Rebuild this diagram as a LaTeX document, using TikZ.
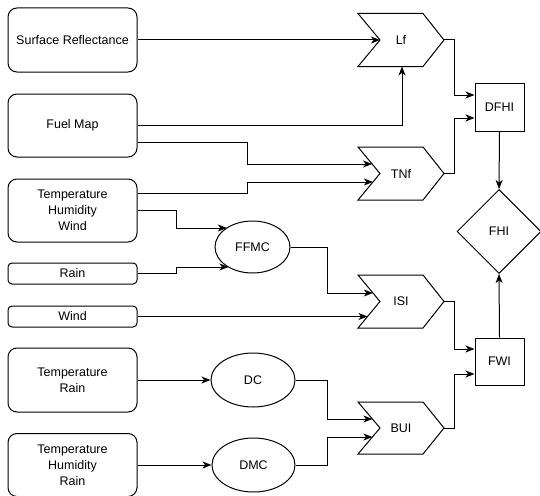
\documentclass[tikz,border=0pt]{standalone}
\usepackage{fontspec}
\setmainfont{Liberation Sans}
\usetikzlibrary{arrows.meta,shapes.geometric,calc}
\begin{document}
\begin{tikzpicture}[x=1pt,y=-1pt,
  line width=1pt,
  every node/.style={font=\fontsize{12.5}{16}\selectfont, align=center, inner sep=0pt},
  bigbox/.style={draw, rounded corners=9pt, minimum width=129pt, minimum height=63pt},
  smallbox/.style={draw, rounded corners=4pt, minimum width=129pt, minimum height=21pt},
  oval/.style={draw, ellipse, minimum width=#1, minimum height=54pt},
  sqbox/.style={draw, minimum width=49pt, minimum height=48pt},
  label/.style={draw=none},
  arr/.style={-{Stealth[length=9pt,width=7pt,inset=2.5pt]}}
]
\useasboundingbox (0,0) rectangle (540,495);

% input boxes
\node[bigbox, minimum height=64pt] (sr) at (72.5,40) {Surface Reflectance};
\node[bigbox] (fm) at (72.5,125.5) {Fuel Map};
\node[bigbox] (thw) at (72.5,210.5) {Temperature\\Humidity\\Wind};
\node[smallbox] (rain) at (72.5,273.5) {Rain};
\node[smallbox] (wind) at (72.5,316.5) {Wind};
\node[bigbox, minimum height=64pt] (tr) at (72.5,380) {Temperature\\Rain};
\node[bigbox] (thr) at (72.5,465) {Temperature\\Humidity\\Rain};

% ellipses
\node[oval=75pt, minimum height=52pt] (ffmc) at (252.5,247) {FFMC};
\node[oval=84pt] (dc) at (253,380) {DC};
\node[oval=83pt] (dmc) at (253.5,465) {DMC};

% chevrons
\draw (358,13.5) -- (423,13.5) -- (444,40) -- (423,66.5) -- (358,66.5) -- (380,40) -- cycle;
\node[label] (lf) at (401,40) {Lf};
\coordinate (lfin) at (380,40);
\coordinate (lfb) at (402,66.5);
\coordinate (lfout) at (444,40);

\draw (358,147) -- (423,147) -- (444,173.5) -- (423,200) -- (358,200) -- (380,173.5) -- cycle;
\node[label] (tnf) at (401,173.5) {TNf};
\coordinate (tnfa) at (372.1,164);
\coordinate (tnfb) at (372.9,182);
\coordinate (tnfout) at (444,173.5);

\draw (358,275) -- (423,275) -- (444,301.5) -- (423,328) -- (358,328) -- (380,301.5) -- cycle;
\node[label] (isi) at (401,301.5) {ISI};
\coordinate (isia) at (372.9,293);
\coordinate (isib) at (367.5,316.5);
\coordinate (isiout) at (444,301.5);

\draw (358,402) -- (423,402) -- (444,428) -- (423,454) -- (358,454) -- (380,428) -- cycle;
\node[label] (bui) at (401,428) {BUI};
\coordinate (buia) at (372.4,419);
\coordinate (buib) at (372.4,437);
\coordinate (buiout) at (444,428);

% right side
\node[sqbox] (dfhi) at (499.5,107) {DFHI};
\node[sqbox, minimum height=47pt] (fwi) at (499.5,361.5) {FWI};
\node[draw, diamond, minimum width=84pt, minimum height=84pt] (fhi) at (499,231.5) {FHI};

\coordinate (ffmca) at (226.9,228);
\coordinate (ffmcb) at (228.5,267);

% connectors
\draw[arr] (sr.east) -- (lfin);
\draw[arr] (fm.east) -| (lfb);
\draw[arr] ($(fm.east)+(0,16.5)$) -- (247,142) -- (247,164) -- (tnfa);
\draw[arr] ($(thw.east)+(0,-17.5)$) -- (247,193) -- (247,182) -- (tnfb);
\draw[arr] (thw.east) -- (176,210.5) -- (176,228) -- (ffmca);
\draw[arr] (rain.east) -- (176,273.5) -- (176,267) -- (ffmcb);
\draw[arr] (ffmc.east) -- (327,247) -- (327,293) -- (isia);
\draw[arr] (wind.east) -- (isib);
\draw[arr] (tr.east) -- (dc.west);
\draw[arr] (thr.east) -- (dmc.west);
\draw[arr] (dc.east) -- (327,380) -- (327,419) -- (buia);
\draw[arr] (dmc.east) -- (327,465) -- (327,437) -- (buib);
\draw[arr] (lfout) -- (454,40) -- (454,95) -- (dfhi.west |- 0,95);
\draw[arr] (tnfout) -- (454,173.5) -- (454,118) -- (dfhi.west |- 0,118);
\draw[arr] (isiout) -- (454,301.5) -- (454,349) -- (fwi.west |- 0,349);
\draw[arr] (buiout) -- (454,428) -- (454,374) -- (fwi.west |- 0,374);
\draw[arr] (dfhi.south) -- (fhi.north);
\draw[arr] (fwi.north) -- (fhi.south);
\end{tikzpicture}
\end{document}
